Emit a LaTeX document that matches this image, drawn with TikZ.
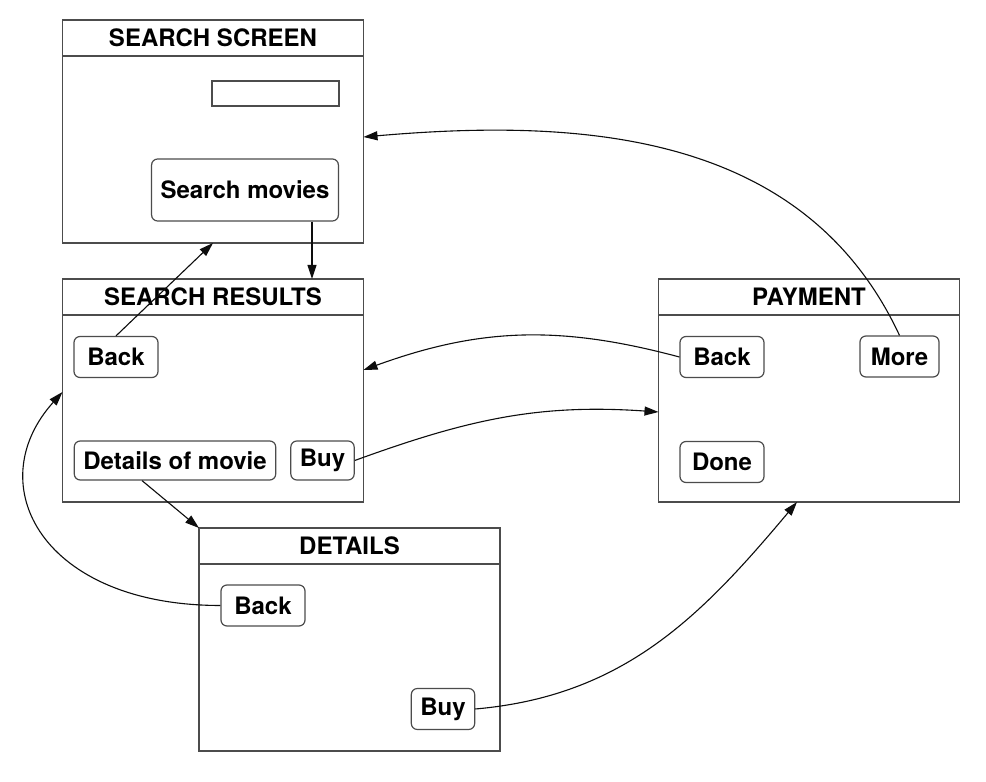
\documentclass[tikz,border=0pt]{standalone}
\usepackage{fontspec}
\setmainfont{TeX Gyre Heros}
\usetikzlibrary{positioning,arrows.meta}
\begin{document}
\begin{tikzpicture}[x=1pt,y=1pt,
  title/.style={draw=drawColor,line width=1.5pt,outer sep=0pt,inner sep=0pt,minimum width=301pt,minimum height=36pt,font=\bfseries\fontsize{24}{28}\selectfont},
  body/.style={draw=drawColor,line width=1.5pt,outer sep=0pt,inner sep=0pt,minimum width=301pt,minimum height=187pt},
  button/.style={draw=drawColor,line width=1.2pt,rounded corners=6pt,inner xsep=9pt,inner ysep=0pt,minimum height=41pt,font=\bfseries\fontsize{24}{28}\selectfont},
  link/.style={draw=linkColor,line width=1.1pt,-{Triangle[length=14pt,width=9pt]}}]
\definecolor{fillColor}{RGB}{255,255,255}
\definecolor{drawColor}{gray}{0.30}
\definecolor{linkColor}{gray}{0.05}
\path[use as bounding box,fill=fillColor] (0,0) rectangle (986,782);

\node[title] (searchtitle) at (213,744) {SEARCH SCREEN};
\node[body,below=0pt of searchtitle] (searchbody) {};
\node[draw=drawColor,line width=1.2pt,inner sep=0pt,minimum width=127pt,minimum height=25pt] (field) at (275.5,688.5) {};
\node[button,minimum height=62pt] (movies) at (245,592) {Search movies};

\node[title] (resultstitle) at (213,485) {SEARCH RESULTS};
\node[body,below=0pt of resultstitle] (resultsbody) {};
\node[button,minimum width=84pt] (resultsback) at (116,425) {Back};
\node[button,minimum height=39pt] (moviedetails) at (175,321.5) {Details of movie};
\node[button,minimum height=39pt] (resultsbuy) at (322.5,321.5) {Buy};

\node[title] (detailstitle) at (349.5,236) {DETAILS};
\node[body,below=0pt of detailstitle] (detailsbody) {};
\node[button,minimum width=84pt] (detailsback) at (263,176.5) {Back};
\node[button] (detailsbuy) at (443,73) {Buy};

\node[title] (paytitle) at (809,485) {PAYMENT};
\node[body,below=0pt of paytitle] (paybody) {};
\node[button,minimum width=84pt] (payback) at (722,425) {Back};
\node[button,minimum width=79pt] (more) at (899.5,425.5) {More};
\node[button,minimum width=84pt] (done) at (722,320) {Done};

\draw[link] ([xshift=67pt]movies.south) -- ([xshift=67pt]movies.south |- resultstitle.north);
\draw[link] (resultsback.north) -- (searchbody.south);
\draw[link] ([xshift=-33pt]moviedetails.south) -- (detailstitle.north west);
\draw[link] (more.north) to[out=115,in=5] ([yshift=12.5pt]searchbody.east);
\draw[link] (payback.west) to[out=165,in=20] ([yshift=38.5pt]resultsbody.east);
\draw[link] (resultsbuy.east) to[out=20,in=176] ([yshift=-3.5pt]paybody.west);
\draw[link] (detailsback.west) to[out=180,in=228,out distance=178pt,in distance=125pt] ([yshift=16.5pt]resultsbody.west);
\draw[link] (detailsbuy.east) to[out=5,in=230] ([xshift=-12pt]paybody.south);
\end{tikzpicture}
\end{document}
